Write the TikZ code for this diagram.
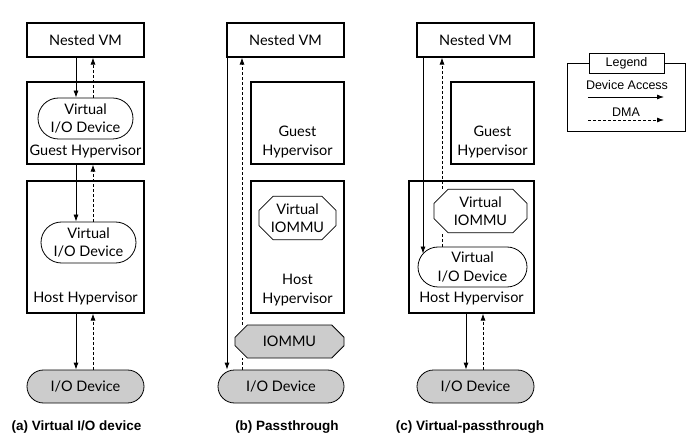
\documentclass[tikz,border=0pt]{standalone}
\usepackage{fontspec}
\setmainfont{Lato}
\newfontfamily\legendfont{Liberation Sans}
\usetikzlibrary{shapes.misc,arrows.meta}
\definecolor{devgray}{HTML}{CCCCCC}
\tikzstyle{mydiagramstyle}=[
    x=1pt, y=-1pt,
    >={Latex[length=7pt,width=5pt]},
    font=\fontsize{14.5}{18.5}\selectfont,
    every node/.style={align=center, inner sep=0pt},
]
\tikzstyle{layerbox}=[draw, line width=1.2pt, rectangle]
\tikzstyle{viodev}=[draw, line width=0.8pt, rounded rectangle]
\tikzstyle{iommubox}=[draw, line width=0.8pt, chamfered rectangle,
    chamfered rectangle xsep=7pt, chamfered rectangle ysep=7pt]
\tikzstyle{hwdev}=[viodev, fill=devgray]
\tikzstyle{devaccess}=[->, line width=0.8pt]
\tikzstyle{dmaflow}=[->, line width=0.8pt, dash pattern=on 3pt off 2pt]
\tikzstyle{caption}=[font=\legendfont\bfseries\fontsize{13.5}{16}\selectfont]
\tikzstyle{legendtext}=[font=\legendfont\fontsize{12.5}{15}\selectfont]

\begin{document}
\begin{tikzpicture}[mydiagramstyle]
        \useasboundingbox (0,0) rectangle (696,446);

        % (a) virtual I/O device
        \node at (85.5,40) [layerbox, minimum width=117pt, minimum height=34pt] (nvmA) {Nested VM};
        \node at (85.5,123) [layerbox, minimum width=117pt, minimum height=82pt] (gA) {};
        \node at (85.5,118.5) [viodev, minimum width=95pt, minimum height=41pt] (vgA) {Virtual\\I/O Device};
        \node at (85.5,151) (gAlabel) {Guest Hypervisor};
        \node at (85.5,247) [layerbox, minimum width=117pt, minimum height=132pt] (hA) {};
        \node at (88.5,242.5) [viodev, minimum width=95pt, minimum height=41pt] (vhA) {Virtual\\I/O Device};
        \node at (85.5,298) (hAlabel) {Host Hypervisor};
        \node at (85.5,386.5) [hwdev, minimum width=117pt, minimum height=33pt] (ioA) {I/O Device};
        \node at (76.5,427) [caption] (capA) {(a) Virtual I/O device};
        \coordinate (sA) at (76,0);
        \coordinate (dA) at (93,0);
        \draw[devaccess] (nvmA.south -| sA) -- (vgA.north -| sA);
        \draw[dmaflow] (vgA.north -| dA) -- (nvmA.south -| dA);
        \draw[devaccess] (gA.south -| sA) -- (vhA.north -| sA);
        \draw[dmaflow] (vhA.north -| dA) -- (gA.south -| dA);
        \draw[devaccess] (hA.south -| sA) -- (ioA.north -| sA);
        \draw[dmaflow] (ioA.north -| dA) -- (hA.south -| dA);

        % (b) passthrough
        \node at (285.5,40) [layerbox, minimum width=117pt, minimum height=34pt] (nvmB) {Nested VM};
        \node at (297.5,123) [layerbox, minimum width=93pt, minimum height=82pt] (gB) {};
        \node at (297.5,142) (gBlabel) {Guest\\Hypervisor};
        \node at (297.5,247) [layerbox, minimum width=93pt, minimum height=132pt] (hB) {};
        \node at (297.5,218) [iommubox, minimum width=77pt, minimum height=42pt] (viB) {Virtual\\IOMMU};
        \node at (297.5,290) (hBlabel) {Host\\Hypervisor};
        \node at (289.5,341.5) [iommubox, fill=devgray, minimum width=109pt, minimum height=33pt] (iommuB) {IOMMU};
        \node at (281,386.5) [hwdev, minimum width=126pt, minimum height=33pt] (ioB) {I/O Device};
        \node at (287,427) [caption] (capB) {(b) Passthrough};
        \coordinate (sB) at (227,0);
        \coordinate (dB) at (242,0);
        \draw[devaccess] (nvmB.south -| sB) -- (ioB.north -| sB);
        \draw[line width=0.8pt, dash pattern=on 3pt off 2pt] (ioB.north -| dB) -- (iommuB.south -| dB);
        \draw[dmaflow] (iommuB.north -| dB) -- (nvmB.south -| dB);

        % (c) virtual-passthrough
        \node at (475.5,40) [layerbox, minimum width=117pt, minimum height=34pt] (nvmC) {Nested VM};
        \node at (492.5,123) [layerbox, minimum width=83pt, minimum height=82pt] (gC) {};
        \node at (492.5,142) (gClabel) {Guest\\Hypervisor};
        \node at (471.5,247) [layerbox, minimum width=125pt, minimum height=132pt] (hC) {};
        \node at (480.5,211) [iommubox, minimum width=93pt, minimum height=38pt] (viC) {Virtual\\IOMMU};
        \node at (472.5,267) [viodev, minimum width=109pt, minimum height=40pt] (vdC) {Virtual\\I/O Device};
        \node at (471.5,298) (hClabel) {Host Hypervisor};
        \node at (475.5,386.5) [hwdev, minimum width=117pt, minimum height=33pt] (ioC) {I/O Device};
        \node at (470,427) [caption] (capC) {(c) Virtual-passthrough};
        \coordinate (sC) at (423,0);
        \coordinate (dC) at (442,0);
        \coordinate (sC2) at (466,0);
        \coordinate (dC2) at (483,0);
        \draw[devaccess] (nvmC.south -| sC) -- ([yshift=-7pt]vdC.north -| sC);
        \draw[line width=0.8pt, dash pattern=on 3pt off 2pt] (vdC.north -| dC) -- (viC.south -| dC);
        \draw[dmaflow] (viC.north -| dC) -- (nvmC.south -| dC);
        \draw[devaccess] (hC.south -| sC2) -- (ioC.north -| sC2);
        \draw[dmaflow] (ioC.north -| dC2) -- (hC.south -| dC2);

        % legend
        \node at (626,97) [draw, line width=0.8pt, minimum width=118pt, minimum height=68pt] (legend) {};
        \node at (626.5,63) [draw, line width=0.8pt, fill=white, minimum width=75pt, minimum height=20pt, legendtext] (legendtitle) {Legend};
        \node at (627,85) [legendtext] (accesslabel) {Device Access};
        \node at (626,112) [legendtext] (dmalabel) {DMA};
        \coordinate (accessfrom) at (588,97);
        \coordinate (accessto) at (664,97);
        \coordinate (dmafrom) at (588,120);
        \coordinate (dmato) at (664,120);
        \draw[devaccess] (accessfrom) -- (accessto);
        \draw[dmaflow] (dmafrom) -- (dmato);
    \end{tikzpicture}
\end{document}
